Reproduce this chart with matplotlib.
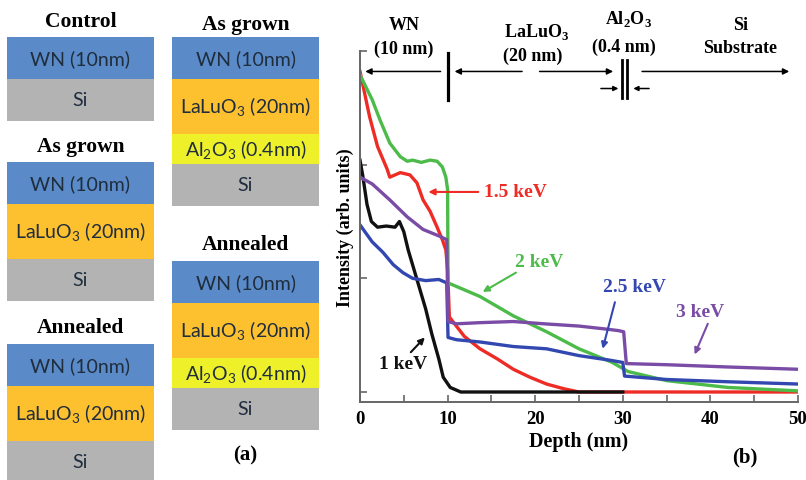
import matplotlib
matplotlib.use("Agg")
import matplotlib.pyplot as plt
from matplotlib.patches import Rectangle

# ---- depth profile data (depth in nm, intensity in arb. units) ----
depth_1kev = [0, 0.3, 0.8, 1.3, 2, 3, 4, 4.5, 5, 5.5, 6.5, 7.5, 8.2, 9, 9.5, 10.3, 11.2, 11.5, 20, 30]
int_1kev = [2.04, 1.91, 1.65, 1.50, 1.45, 1.46, 1.45, 1.50, 1.41, 1.25, 0.99, 0.73, 0.51, 0.29, 0.13, 0.04, 0.01, 0.0, 0.0, 0.0]

depth_15kev = [0, 1.1, 2.0, 3.1, 3.4, 4.6, 5.7, 6.5, 7.2, 8.0, 8.8, 9.4, 9.8, 10.0, 10.2, 11.9, 13.7,
               15.7, 17.5, 19.4, 21.3, 23.2, 25, 35, 50]
int_15kev = [2.82, 2.42, 2.16, 1.96, 1.89, 1.93, 1.91, 1.84, 1.69, 1.59, 1.45, 1.34, 1.25, 1.08, 0.66, 0.49, 0.38,
             0.29, 0.20, 0.13, 0.07, 0.03, 0.0, 0.0, 0.0]

depth_2kev = [0, 1.4, 2.3, 3.4, 4.6, 5.4, 6, 7, 8, 8.8, 9.4, 9.8, 10.0, 10.05, 13.7, 17.5, 21.3,
              25, 28.8, 30.6, 35, 42, 50]
int_2kev = [2.79, 2.57, 2.39, 2.19, 2.07, 2.03, 2.04, 2.02, 2.04, 2.03, 1.98, 1.89, 1.78, 0.96, 0.84, 0.67, 0.53,
            0.38, 0.26, 0.18, 0.10, 0.04, 0.01]

depth_25kev = [0, 1.4, 2.6, 3.8, 4.9, 6.0, 7.5, 9, 9.9, 10.05, 11, 13.7, 17.5, 21.3, 25, 28.5, 30, 30.2,
               35, 42, 50]
int_25kev = [1.47, 1.32, 1.23, 1.12, 1.05, 1.00, 0.98, 0.99, 0.96, 0.48, 0.46, 0.44, 0.40, 0.38, 0.32, 0.28, 0.26, 0.14,
             0.11, 0.09, 0.07]

depth_3kev = [0, 1.4, 3.4, 5.4, 7.2, 9.1, 9.9, 10.05, 11, 13.7, 17.5, 21, 25, 28.5, 29.5, 30.1, 30.4,
              35, 42, 50]
int_3kev = [1.89, 1.83, 1.69, 1.54, 1.43, 1.37, 1.34, 0.62, 0.60, 0.61, 0.62, 0.60, 0.58, 0.55, 0.54, 0.53, 0.25,
            0.24, 0.22, 0.20]

# ---- layer stacks of panel (a) ----
layer_labels = {'WN': 'WN (10nm)',
                'LaLuO3': 'LaLuO$_\\mathregular{3}$ (20nm)',
                'Al2O3': 'Al$_\\mathregular{2}$O$_\\mathregular{3}$ (0.4nm)',
                'Si': 'Si'}
layer_colors = {'WN': '#5a8bc8', 'LaLuO3': '#fdc02f', 'Al2O3': '#eef02a', 'Si': '#b3b3b3'}
layer_heights = {'WN': 42, 'LaLuO3': 55, 'Al2O3': 30, 'Si': 42}

stack_titles = ['Control', 'As grown', 'Annealed', 'As grown', 'Annealed']
stack_layers = [['WN', 'Si'],
                ['WN', 'LaLuO3', 'Si'],
                ['WN', 'LaLuO3', 'Si'],
                ['WN', 'LaLuO3', 'Al2O3', 'Si'],
                ['WN', 'LaLuO3', 'Al2O3', 'Si']]
# x of left edge, y of title, y of top block (pixels)
stack_pos = [(7, 22, 38), (7, 147, 163), (7, 328, 345), (172, 25, 38), (172, 245, 262)]
block_w = 147

serif = 'Liberation Serif'
sans = 'Lato'

fig = plt.figure(figsize=(8.06, 4.81), dpi=100)

# panel (a) drawn in pixel coordinates
lax = fig.add_axes([0, 0, 1, 1])
lax.set_xlim(0, 806)
lax.set_ylim(481, 0)
lax.axis('off')

for title, layers, (x0, ty, y0) in zip(stack_titles, stack_layers, stack_pos):
    lax.text(x0 + block_w / 2, ty, title, ha='center', va='center', family=serif,
             fontweight='bold', fontsize=15.5)
    y = y0
    for name in layers:
        h = layer_heights[name]
        lax.add_patch(Rectangle((x0, y), block_w, h, facecolor=layer_colors[name], edgecolor='none'))
        lax.text(x0 + block_w / 2, y + h / 2, layer_labels[name], ha='center', va='center',
                 family=sans, fontsize=14, color='#1f2d3d')
        y += h

lax.text(245, 455, '(a)', ha='center', va='center', family=serif, fontweight='bold', fontsize=15)

# panel (b)
ax = fig.add_axes([360 / 806, 1 - 403 / 481, (798 - 360) / 806, (403 - 52) / 481])
ax.plot(depth_15kev, int_15kev, color='#ee2b24', lw=2.4)
ax.plot(depth_2kev, int_2kev, color='#4dbb4a', lw=2.4)
ax.plot(depth_1kev, int_1kev, color='#111111', lw=2.4)
ax.plot(depth_25kev, int_25kev, color='#3347b0', lw=2.4)
ax.plot(depth_3kev, int_3kev, color='#7a4ca6', lw=2.4)

ax.set_xlim(0, 50)
ax.set_ylim(-0.088, 3.0)
ax.set_xticks(range(0, 51, 10))
ax.set_xticks(range(5, 50, 10), minor=True)
ax.set_xticklabels([str(v) for v in range(0, 51, 10)], family=serif, fontweight='bold', fontsize=13.5)
ax.set_yticks([0, 1, 2, 3])
ax.set_yticklabels([])
ax.tick_params(which='both', direction='in', length=5, width=1.2, color='#666666', pad=6)
for s in ['top', 'right']:
    ax.spines[s].set_visible(False)
for s in ['left', 'bottom']:
    ax.spines[s].set_color('#666666')
    ax.spines[s].set_linewidth(1.4)

ax.set_xlabel('Depth (nm)', family=serif, fontweight='bold', fontsize=14.5, labelpad=3)
ax.set_ylabel('Intensity (arb. units)', family=serif, fontweight='bold', fontsize=13, labelpad=-2)
ax.text(0.878, -0.155, '(b)', transform=ax.transAxes, ha='center', va='center',
        family=serif, fontweight='bold', fontsize=15)

# layer annotations along the top
def arrow(x1, y1, x2, y2, color='black', lw=1.1, ms=9):
    ax.annotate('', xy=(x2, y2), xytext=(x1, y1), annotation_clip=False,
                arrowprops=dict(arrowstyle='-|>', color=color, lw=lw, mutation_scale=ms,
                                shrinkA=0, shrinkB=0))

ax.plot([10, 10], [2.57, 2.98], color='black', lw=2.3, clip_on=False)
ax.plot([29.9, 29.9], [2.59, 2.92], color='black', lw=2.0, clip_on=False)
ax.plot([30.5, 30.5], [2.59, 2.92], color='black', lw=2.0, clip_on=False)
arrow(9.2, 2.82, 0.6, 2.82)
arrow(18.5, 2.82, 10.8, 2.82)
arrow(20.5, 2.82, 28.9, 2.82)
arrow(27.5, 2.67, 29.5, 2.67, ms=7)
arrow(33.0, 2.67, 31.2, 2.67, ms=7)
arrow(32.2, 2.82, 49.0, 2.82)

top_kw = dict(ha='center', va='center', family=serif, fontweight='bold', fontsize=13, clip_on=False)
ax.text(5.1, 3.23, 'WN', **top_kw)
ax.text(5.0, 3.02, '(10 nm)', **top_kw)
ax.text(20.2, 3.18, 'LaLuO$_\\mathregular{3}$', **top_kw)
ax.text(19.7, 2.96, '(20 nm)', **top_kw)
ax.text(30.6, 3.29, 'Al$_\\mathregular{2}$O$_\\mathregular{3}$', **top_kw)
ax.text(30.1, 3.04, '(0.4 nm)', **top_kw)
ax.text(43.4, 3.23, 'Si', **top_kw)
ax.text(43.4, 3.03, 'Substrate', **top_kw)

# curve labels
lab_kw = dict(ha='center', va='center', family=serif, fontweight='bold', fontsize=14)
ax.text(17.7, 1.76, '1.5 keV', color='#ee2b24', **lab_kw)
arrow(13.5, 1.76, 7.8, 1.76, color='#ee2b24', lw=1.5)
ax.text(20.5, 1.15, '2 keV', color='#4dbb4a', **lab_kw)
arrow(17.8, 1.05, 14.0, 0.88, color='#4dbb4a', lw=1.5)
ax.text(31.3, 0.93, '2.5 keV', color='#3347b0', **lab_kw)
arrow(29.1, 0.79, 27.7, 0.38, color='#3347b0', lw=1.5)
ax.text(38.8, 0.71, '3 keV', color='#7a4ca6', **lab_kw)
arrow(39.7, 0.60, 38.2, 0.33, color='#7a4ca6', lw=1.5)
ax.text(4.9, 0.25, '1 keV', color='#111111', **lab_kw)
arrow(5.8, 0.35, 7.4, 0.48, color='#111111', lw=1.5)

fig.savefig('out.png', dpi=100)
